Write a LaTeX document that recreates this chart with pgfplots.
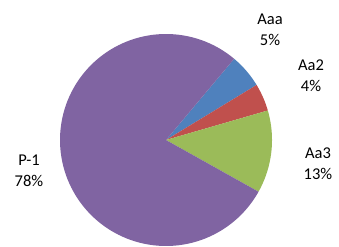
\documentclass[border=0pt]{standalone}
\usepackage{pgfplots}
\pgfplotsset{compat=1.18}
\usepackage{fontspec}
\setmainfont{Carlito}
\definecolor{cA}{HTML}{4F81BD}
\definecolor{cB}{HTML}{C0504D}
\definecolor{cC}{HTML}{9BBB59}
\definecolor{cD}{HTML}{8064A2}
% pie data (percent)
\def\vA{5.2}\def\vB{4.2}\def\vC{12.6}\def\vD{78.0}
\def\startang{50}
\pgfmathsetmacro\aA{\startang}
\pgfmathsetmacro\aB{\aA-3.6*\vA}
\pgfmathsetmacro\aC{\aB-3.6*\vB}
\pgfmathsetmacro\aD{\aC-3.6*\vC}
\pgfmathsetmacro\aE{\aD-3.6*\vD}
\def\cx{166}\def\cy{106}\def\rr{106}
\begin{document}
\begin{tikzpicture}
\begin{axis}[
  width=339pt, height=246pt, scale only axis,
  xmin=0, xmax=339, ymin=0, ymax=246,
  hide axis,
]
\addplot[fill=cA, draw=none, domain=\aB:\aA, samples=40] ({\cx+\rr*cos(x)},{\cy+\rr*sin(x)}) -- (axis cs:\cx,\cy) -- cycle;
\addplot[fill=cB, draw=none, domain=\aC:\aB, samples=40] ({\cx+\rr*cos(x)},{\cy+\rr*sin(x)}) -- (axis cs:\cx,\cy) -- cycle;
\addplot[fill=cC, draw=none, domain=\aD:\aC, samples=60] ({\cx+\rr*cos(x)},{\cy+\rr*sin(x)}) -- (axis cs:\cx,\cy) -- cycle;
\addplot[fill=cD, draw=none, domain=\aE:\aD, samples=200] ({\cx+\rr*cos(x)},{\cy+\rr*sin(x)}) -- (axis cs:\cx,\cy) -- cycle;
\path (axis cs:0,0) rectangle (axis cs:339,246);
\begin{scope}[every node/.style={align=center, font=\fontsize{16.5}{21}\selectfont, inner sep=0pt}]
\node at (axis cs:270,216) {Aaa\\5\%};
\node at (axis cs:311,170) {Aa2\\4\%};
\node at (axis cs:318,82.5) {Aa3\\13\%};
\node at (axis cs:29,75) {P-1\\78\%};
\end{scope}
\end{axis}
\end{tikzpicture}
\end{document}
